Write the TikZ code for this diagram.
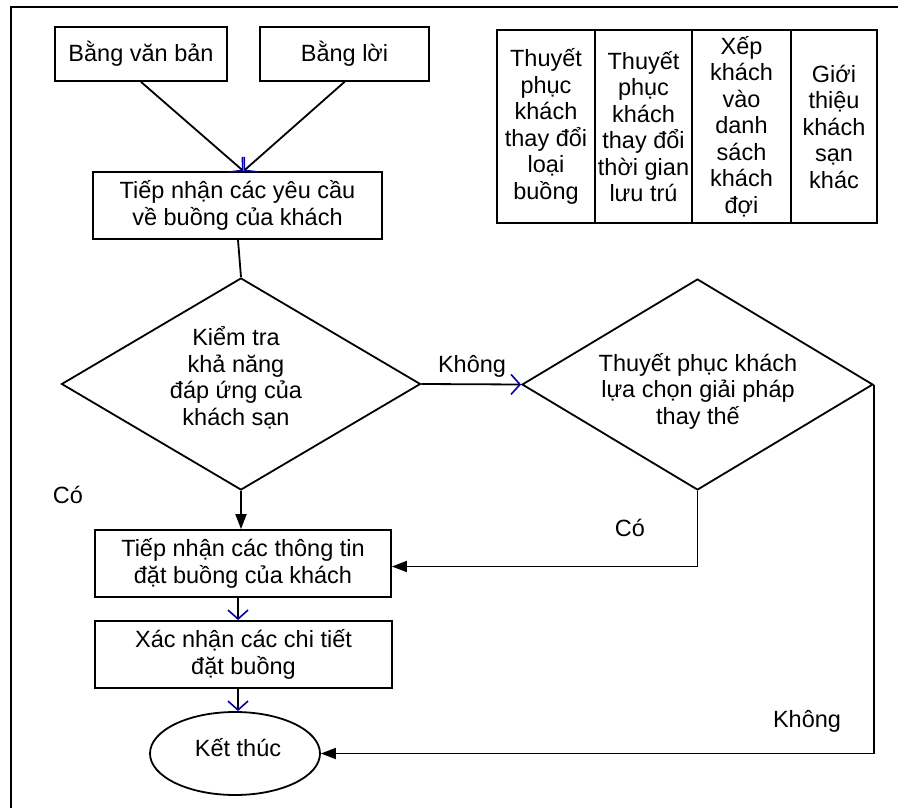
\documentclass[tikz,border=0pt]{standalone}
\usepackage{fontspec}
\setmainfont{Liberation Sans}
\usetikzlibrary{shapes.geometric,arrows.meta}
\begin{document}
\begin{tikzpicture}[x=1pt,y=-1pt,
  every node/.style={font=\fontsize{23.5}{26.5}\selectfont, inner sep=0pt},
  stroke/.style={line width=1.8pt, black},
  box/.style={stroke, draw, align=center, fill=white},
  cell/.style={stroke, draw, align=center, minimum height=193pt},
  dec/.style={stroke, draw, diamond},
  txt/.style={align=center},
  flow/.style={stroke, -{Triangle[length=15pt,width=11pt]}},
  pen/.style={stroke, -{Straight Barb[length=9pt,width=20pt,line width=1.6pt,color=blue!65!black]}},
  link/.style={stroke}
]
\useasboundingbox (0,0) rectangle (898,808);

% page frame
\coordinate (fTL) at (11,7);
\coordinate (fTR) at (898,7);
\coordinate (fBL) at (11,808);
\draw[line width=1.8pt] (fTR) -- (fTL) -- (fBL);

% x position of the main column of arrows
\coordinate (spine) at (238,0);

% sources of the request
\node[box, minimum width=172pt, minimum height=54pt] (written) at (141,54) {Bằng văn bản};
\node[box, minimum width=169pt, minimum height=54pt] (spoken) at (344.5,54) {Bằng lời};

% main flow
\node[box, minimum width=289pt, minimum height=67pt] (receive) at (237.5,205.5)
  {Tiếp nhận các yêu cầu\\về buồng của khách};
\node[dec, minimum width=359pt, minimum height=212pt] (check) at (241,384) {};
\node[txt] (checkt) at (236,378) {Kiểm tra\\khả năng\\đáp ứng của\\khách sạn};
\node[dec, minimum width=351pt, minimum height=211pt] (persuade) at (697.5,384.5) {};
\node[txt] (persuadet) at (698,391) {Thuyết phục khách\\lựa chọn giải pháp\\thay thế};
\node[box, minimum width=296pt, minimum height=67pt] (details) at (243,563.5)
  {Tiếp nhận các thông tin\\đặt buồng của khách};
\node[box, minimum width=297pt, minimum height=67pt] (confirm) at (243.5,654.5)
  {Xác nhận các chi tiết\\đặt buồng};
\node[stroke, draw, ellipse, minimum width=170pt, minimum height=83pt] (finish) at (235,753.5) {};
\node[txt] (finisht) at (238,748) {Kết thúc};

% alternatives table
\node[cell, minimum width=98pt] (alt1) at (546,126.5)
  {Thuyết\\phục\\khách\\thay đổi\\loại\\buồng};
\node[cell, minimum width=97pt] (alt2) at (643.5,126.5)
  {Thuyết\\phục\\khách\\thay đổi\\thời gian\\lưu trú};
\node[cell, minimum width=99pt] (alt3) at (741.5,126.5)
  {Xếp\\khách\\vào\\danh\\sách\\khách\\đợi};
\node[cell, minimum width=86pt] (alt4) at (834,126.5)
  {Giới\\thiệu\\khách\\sạn\\khác};

% connectors
\draw[pen] (written.south) -- ([xshift=6pt]receive.north);
\draw[pen] (spoken.south) -- ([xshift=6pt]receive.north);
\draw[link] (receive.south -| spine) -- (check.north);
\draw[flow] (check.south) -- (check.south |- details.north);
\draw[pen] (check.east) -- (persuade.west);
\draw[flow] (persuade.south) |- ([yshift=-3pt]details.east);
\draw[pen] (details.south -| spine) -- (confirm.north -| spine);
\draw[pen] (confirm.south -| spine) -- (finish.north -| spine);
\draw[flow] (persuade.east) |- (finish.east);

% branch labels
\node (yes1) at (68,495) {Có};
\node (no1) at (472,366) {Không};
\node (yes2) at (630,528) {Có};
\node (no2) at (807,721) {Không};
\end{tikzpicture}
\end{document}
